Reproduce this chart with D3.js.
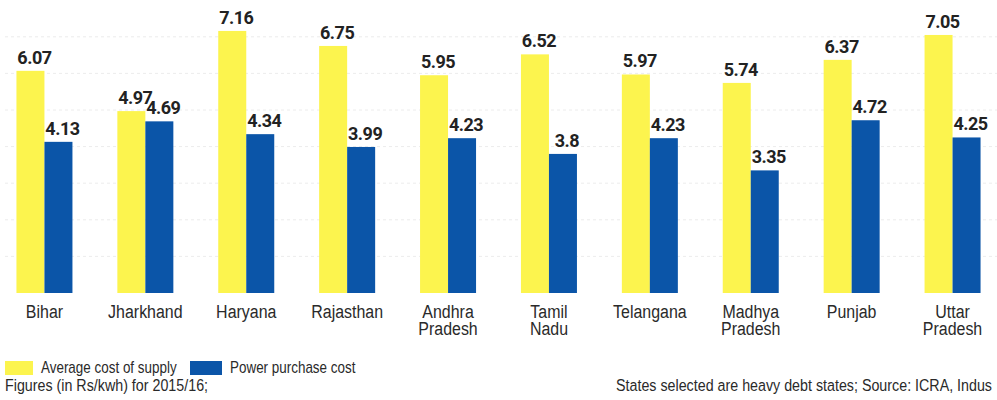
<!DOCTYPE html>
<html>
<head>
<meta charset="utf-8">
<script src="https://cdn.jsdelivr.net/npm/d3@7"></script>
<style>
  body { margin: 0; background: #fff; }
  svg { display: block; }
</style>
</head>
<body>
<script>
// data (Rs/kwh, 2015/16)
var states = ["Bihar", "Jharkhand", "Haryana", "Rajasthan", "Andhra Pradesh", "Tamil Nadu", "Telangana", "Madhya Pradesh", "Punjab", "Uttar Pradesh"];
var stateLines = [["Bihar"], ["Jharkhand"], ["Haryana"], ["Rajasthan"], ["Andhra", "Pradesh"], ["Tamil", "Nadu"], ["Telangana"], ["Madhya", "Pradesh"], ["Punjab"], ["Uttar", "Pradesh"]];
var avgSupply = [6.07, 4.97, 7.16, 6.75, 5.95, 6.52, 5.97, 5.74, 6.37, 7.05];
var purchase = [4.13, 4.69, 4.34, 3.99, 4.23, 3.8, 4.23, 3.35, 4.72, 4.25];
var seriesNames = ["Average cost of supply", "Power purchase cost"];
var gridValues = [1, 2, 3, 4, 5, 6, 7];

var width = 997, height = 400;
var baseY = 293;
var colours = ["#fcf44e", "#0b55a8"];
var squeeze = 0.84; // the paper uses a condensed face, fake it by scaling
var font = "'Liberation Sans', Arial, sans-serif";

var svg = d3.select("body").append("svg")
  .attr("width", width)
  .attr("height", height);

var x = d3.scaleBand()
  .domain(states)
  .range([0, width])
  .paddingInner(0.445)
  .paddingOuter(0.163);

var xs = d3.scaleBand()
  .domain(seriesNames)
  .range([0, x.bandwidth()]);

var y = d3.scaleLinear()
  .domain([0, 8])
  .range([baseY, baseY - 8 * 36.6]);

// place a condensed text at (px, py)
function narrowText(parent, px, py, size, anchor) {
  return parent.append("g")
    .attr("transform", "translate(" + px + "," + py + ") scale(" + squeeze + ",1)")
    .append("text")
    .attr("text-anchor", anchor || "start")
    .attr("font-family", font)
    .attr("font-size", size)
    .attr("fill", "#2a2a2a");
}

// faint grid
svg.append("g")
  .selectAll("line")
  .data(gridValues)
  .join("line")
  .attr("x1", 5)
  .attr("x2", width)
  .attr("y1", d => y(d))
  .attr("y2", d => y(d))
  .attr("stroke", "#ececec")
  .attr("stroke-dasharray", "3,3");

var rows = states.map(function (s, i) {
  return { state: s, values: [avgSupply[i], purchase[i]] };
});

var groups = svg.append("g")
  .selectAll("g")
  .data(rows)
  .join("g")
  .attr("transform", d => "translate(" + x(d.state) + ",0)");

groups.selectAll("rect")
  .data(d => d.values.map((v, j) => ({ key: seriesNames[j], v: v, j: j })))
  .join("rect")
  .attr("x", d => xs(d.key))
  .attr("width", xs.bandwidth())
  .attr("y", d => y(d.v))
  .attr("height", d => baseY - y(d.v))
  .attr("fill", d => colours[d.j]);

groups.selectAll("text.val")
  .data(d => d.values.map((v, j) => ({ key: seriesNames[j], v: v })))
  .join("text")
  .attr("class", "val")
  .attr("x", d => xs(d.key) + xs.bandwidth() / 2 + 4)
  .attr("y", d => y(d.v) - 7)
  .attr("text-anchor", "middle")
  .attr("font-family", "Roboto, sans-serif")
  .attr("font-weight", 700)
  .attr("font-size", 18)
  .attr("letter-spacing", "-0.5")
  .attr("fill", "#222")
  .text(d => d.v);

// category labels
var catG = svg.append("g");
states.forEach(function (s, i) {
  var t = narrowText(catG, x(s) + x.bandwidth() / 2, 318, 19, "middle");
  t.selectAll("tspan")
    .data(stateLines[i])
    .join("tspan")
    .attr("x", 0)
    .attr("dy", (d, k) => k === 0 ? 0 : 17)
    .text(d => d);
});

// legend
var legend = svg.append("g");
var legendX = [5, 190];
var swatchW = [28, 32];
seriesNames.forEach(function (name, i) {
  legend.append("rect")
    .attr("x", legendX[i])
    .attr("y", 361)
    .attr("width", swatchW[i])
    .attr("height", 14)
    .attr("fill", colours[i]);
  narrowText(legend, legendX[i] + swatchW[i] + 8, 373, 16).text(name);
});

narrowText(svg, 5, 391, 17).text("Figures (in Rs/kwh) for 2015/16;");
// the source line runs off the right edge in the original, keep what shows
narrowText(svg, 992, 391, 17, "end").text("States selected are heavy debt states; Source: ICRA, Indus");
</script>
</body>
</html>
